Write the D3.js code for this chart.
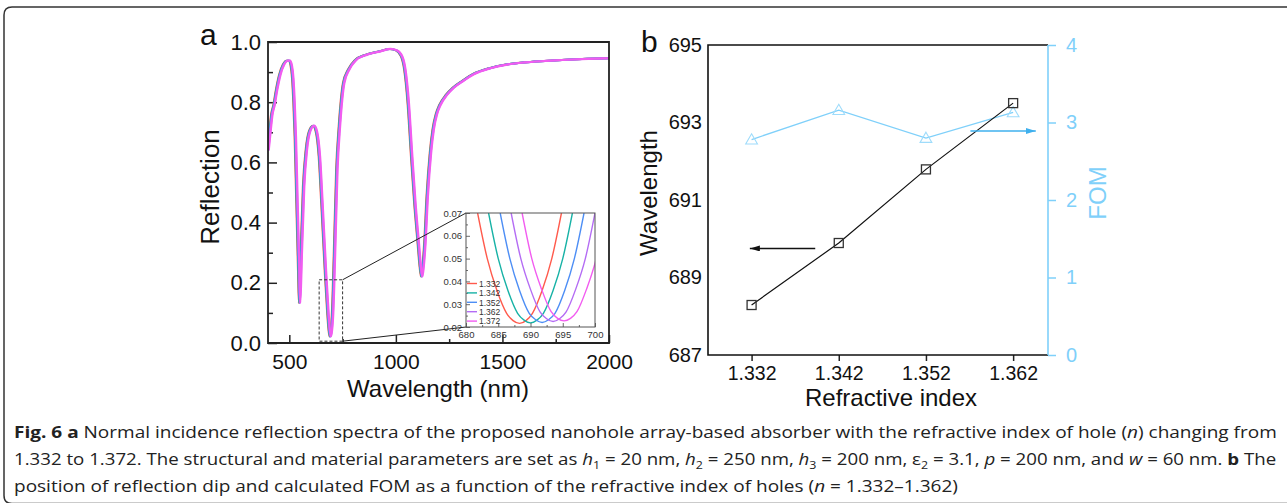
<!DOCTYPE html>
<html>
<head>
<meta charset="utf-8">
<script src="https://cdn.jsdelivr.net/npm/d3@7"></script>
<style>
  body { margin: 0; background: #fff; }
  svg { display: block; }
</style>
</head>
<body>
<svg id="fig" width="1287" height="503"></svg>
<script>
// ---- panel a: reflection spectrum (n = 1.352 curve)
const specWl = [400, 410, 418, 428, 440, 455, 473, 490, 500, 509, 516, 522, 528, 536, 544, 548, 552, 556, 567, 580, 595, 614, 627, 641, 653, 669, 681, 687, 692, 697, 703, 712, 723, 735, 755, 778, 809, 862, 925, 972, 1003, 1027, 1042, 1058, 1073, 1089, 1105, 1115, 1121, 1127, 1136, 1147, 1162, 1175, 1190, 1206, 1238, 1269, 1316, 1363, 1441, 1519, 1600, 1700, 1800, 1900, 2000];
const specR = [0.64, 0.71, 0.76, 0.79, 0.84, 0.89, 0.925, 0.938, 0.938, 0.922, 0.88, 0.80, 0.687, 0.465, 0.244, 0.133, 0.20, 0.30, 0.52, 0.642, 0.703, 0.722, 0.703, 0.62, 0.465, 0.244, 0.10, 0.045, 0.022, 0.04, 0.10, 0.30, 0.576, 0.72, 0.864, 0.908, 0.939, 0.958, 0.969, 0.977, 0.972, 0.952, 0.908, 0.797, 0.631, 0.465, 0.332, 0.25, 0.221, 0.25, 0.332, 0.487, 0.631, 0.71, 0.76, 0.79, 0.825, 0.848, 0.872, 0.893, 0.913, 0.925, 0.932, 0.937, 0.941, 0.944, 0.946];

const indexLabels = ['1.332', '1.342', '1.352', '1.362', '1.372'];
const seriesColors = ['#ff5a4c', '#17b2a6', '#4d8ef5', '#b46cf4', '#f25cf0'];
// dip position of each curve (inset)
const dipWl = [688.3, 690.0, 691.8, 693.5, 695.2];

// inset curves, 680-700 nm
const insetWl = [
  [681.8, 683.3, 684.8, 686.3, 687.3, 688.3, 689.3, 690.3, 691.8, 693.3, 694.8],
  [683.5, 685.0, 686.5, 688.0, 689.0, 690.0, 691.0, 692.0, 693.5, 695.0, 696.5],
  [685.3, 686.8, 688.3, 689.8, 690.8, 691.8, 692.8, 693.8, 695.3, 696.8, 698.3],
  [687.0, 688.5, 690.0, 691.5, 692.5, 693.5, 694.5, 695.5, 697.0, 698.5, 700.0],
  [688.7, 690.2, 691.7, 693.2, 694.2, 695.2, 696.2, 697.2, 698.7, 700.2, 701.7]
];
const insetR = [
  [0.070, 0.050, 0.036, 0.026, 0.0228, 0.0216, 0.0228, 0.026, 0.036, 0.050, 0.070],
  [0.070, 0.050, 0.036, 0.026, 0.0230, 0.0218, 0.0230, 0.026, 0.036, 0.050, 0.070],
  [0.070, 0.050, 0.036, 0.026, 0.0232, 0.0220, 0.0232, 0.026, 0.036, 0.050, 0.070],
  [0.070, 0.050, 0.0365, 0.0265, 0.0236, 0.0224, 0.0236, 0.0265, 0.0365, 0.050, 0.070],
  [0.070, 0.050, 0.0367, 0.0267, 0.0238, 0.0227, 0.0238, 0.0267, 0.0367, 0.050, 0.070]
];

// ---- panel b
const nIndex = [1.332, 1.342, 1.352, 1.362];
const dipWavelength = [688.29, 689.89, 691.79, 693.50];
const fom = [2.78, 3.16, 2.80, 3.13];

const FONT = '"Liberation Sans", Arial, Helvetica, sans-serif';
const FOM_BLUE = '#7fd0fa';

const svg = d3.select('#fig');

// outer rounded frame
svg.append('path')
  .attr('d', 'M1295,503.5 L12,503.5 Q4,503.5 4,495.5 L4,15 Q4,7 12,7 L1295,7')
  .attr('fill', 'none')
  .attr('stroke', '#333')
  .attr('stroke-width', 1.5);

function styleAxis(g, size, color) {
  g.select('.domain').remove();
  g.selectAll('text').attr('font-family', FONT).attr('font-size', size).attr('fill', color || '#111');
  g.selectAll('line').attr('stroke', color || '#222').attr('stroke-width', 1.5);
}

// =============== panel a ===============
const ax = d3.scaleLinear().domain([400, 2000]).range([268, 609]);
const ay = d3.scaleLinear().domain([0, 1]).range([343, 42]);

const ga = svg.append('g');

ga.append('clipPath').attr('id', 'clipA')
  .append('rect').attr('x', 268).attr('y', 42).attr('width', 341).attr('height', 301);

ga.append('g').attr('transform', 'translate(0,343)')
  .call(d3.axisBottom(ax).tickValues([500, 1000, 1500, 2000]).tickFormat(d3.format('d')).tickSizeInner(-8).tickSizeOuter(0).tickPadding(11))
  .call(g => styleAxis(g, 21));
ga.append('g').attr('transform', 'translate(0,343)')
  .call(d3.axisBottom(ax).tickValues([750, 1250, 1750]).tickSizeInner(-4).tickSizeOuter(0).tickFormat(''))
  .call(g => styleAxis(g, 21));
ga.append('g').attr('transform', 'translate(268,0)')
  .call(d3.axisLeft(ay).tickValues([0, 0.2, 0.4, 0.6, 0.8, 1]).tickFormat(d3.format('.1f')).tickSizeInner(-9).tickSizeOuter(0).tickPadding(7))
  .call(g => styleAxis(g, 22));
ga.append('g').attr('transform', 'translate(268,0)')
  .call(d3.axisLeft(ay).tickValues([0.1, 0.3, 0.5, 0.7, 0.9]).tickSizeInner(-5).tickSizeOuter(0).tickFormat(''))
  .call(g => styleAxis(g, 22));

const lineA = d3.line().x(d => ax(d[0])).y(d => ay(d[1])).curve(d3.curveMonotoneX);
const curvesA = ga.append('g').attr('clip-path', 'url(#clipA)');
indexLabels.forEach((lab, i) => {
  const shift = dipWl[i] - dipWl[2];
  const pts = specWl.map((w, j) => [w + shift, specR[j]]);
  curvesA.append('path')
    .attr('d', lineA(pts))
    .attr('fill', 'none')
    .attr('stroke', seriesColors[i])
    .attr('stroke-width', i === 4 ? 2.2 : 2);
});

// frame of a
ga.append('path')
  .attr('d', `M${ax(400)},${ay(0)} L${ax(400)},${ay(1)} L${ax(2000)},${ay(1)} L${ax(2000)},${ay(0)} Z`)
  .attr('fill', 'none').attr('stroke', '#222').attr('stroke-width', 1.8);

// zoom box
const boxW0 = 640, boxW1 = 750, boxR0 = 0.006, boxR1 = 0.21;
ga.append('rect')
  .attr('x', ax(boxW0)).attr('y', ay(boxR1))
  .attr('width', ax(boxW1) - ax(boxW0)).attr('height', ay(boxR0) - ay(boxR1))
  .attr('fill', 'none').attr('stroke', '#333').attr('stroke-width', 1).attr('stroke-dasharray', '3,2');

// inset
const ix = d3.scaleLinear().domain([680, 700]).range([466, 595]);
const iy = d3.scaleLinear().domain([0.02, 0.07]).range([327, 213]);

ga.append('line')
  .attr('x1', ax(boxW1)).attr('y1', ay(boxR1)).attr('x2', ix(680)).attr('y2', iy(0.07))
  .attr('stroke', '#222').attr('stroke-width', 1);
ga.append('line')
  .attr('x1', ax(boxW1)).attr('y1', ay(boxR0)).attr('x2', ix(680)).attr('y2', iy(0.02))
  .attr('stroke', '#222').attr('stroke-width', 1);

const gi = ga.append('g');
gi.append('rect').attr('x', 466).attr('y', 213).attr('width', 129).attr('height', 114).attr('fill', '#fff');
gi.append('clipPath').attr('id', 'clipI')
  .append('rect').attr('x', 466).attr('y', 213).attr('width', 129).attr('height', 114);

const lineI = d3.line().x(d => ix(d[0])).y(d => iy(d[1])).curve(d3.curveMonotoneX);
const curvesI = gi.append('g').attr('clip-path', 'url(#clipI)');
insetWl.forEach((wl, i) => {
  curvesI.append('path')
    .attr('d', lineI(wl.map((w, j) => [w, insetR[i][j]])))
    .attr('fill', 'none')
    .attr('stroke', seriesColors[i])
    .attr('stroke-width', 1.4);
});

function styleInset(g) {
  g.select('.domain').remove();
  g.selectAll('text').attr('font-family', FONT).attr('font-size', 9.5).attr('fill', '#333');
  g.selectAll('line').attr('stroke', '#444').attr('stroke-width', 0.8);
}
gi.append('g').attr('transform', 'translate(0,327)')
  .call(d3.axisBottom(ix).tickValues([680, 685, 690, 695, 700]).tickSizeInner(-4).tickSizeOuter(0).tickPadding(4))
  .call(styleInset);
gi.append('g').attr('transform', 'translate(0,327)')
  .call(d3.axisBottom(ix).tickValues([682.5, 687.5, 692.5, 697.5]).tickSizeInner(-2).tickSizeOuter(0).tickFormat(''))
  .call(styleInset);
gi.append('g').attr('transform', 'translate(466,0)')
  .call(d3.axisLeft(iy).tickValues([0.02, 0.03, 0.04, 0.05, 0.06, 0.07]).tickFormat(d3.format('.2f')).tickSizeInner(-4).tickSizeOuter(0).tickPadding(4))
  .call(styleInset);
gi.append('g').attr('transform', 'translate(466,0)')
  .call(d3.axisLeft(iy).tickValues([0.025, 0.035, 0.045, 0.055, 0.065]).tickSizeInner(-2).tickSizeOuter(0).tickFormat(''))
  .call(styleInset);
gi.append('rect').attr('x', 466).attr('y', 213).attr('width', 129).attr('height', 114)
  .attr('fill', 'none').attr('stroke', '#555').attr('stroke-width', 1);

// inset legend
const leg = gi.append('g');
indexLabels.forEach((lab, i) => {
  const y = 283.5 + i * 9.4;
  leg.append('line').attr('x1', 467).attr('x2', 477).attr('y1', y).attr('y2', y)
    .attr('stroke', seriesColors[i]).attr('stroke-width', 1.4);
  leg.append('text').attr('x', 479).attr('y', y + 3.2).text(lab)
    .attr('font-family', FONT).attr('font-size', 8.5).attr('fill', '#333');
});

// titles a
ga.append('text').attr('x', 200).attr('y', 45).text('a')
  .attr('font-family', FONT).attr('font-size', 30).attr('fill', '#111');
ga.append('text')
  .attr('transform', 'translate(219,187) rotate(-90)')
  .attr('text-anchor', 'middle').text('Reflection')
  .attr('font-family', FONT).attr('font-size', 26).attr('fill', '#111');
ga.append('text')
  .attr('x', 438).attr('y', 397).attr('text-anchor', 'middle').text('Wavelength (nm)')
  .attr('font-family', FONT).attr('font-size', 24).attr('fill', '#111');

// =============== panel b ===============
const bx = d3.scaleLinear().domain([1.327, 1.366]).range([708, 1048]);
const by = d3.scaleLinear().domain([687, 695]).range([355, 45]);
const bf = d3.scaleLinear().domain([0, 4]).range([355, 45]);

const gb = svg.append('g');

gb.append('g').attr('transform', 'translate(0,355)')
  .call(d3.axisBottom(bx).tickValues(nIndex).tickFormat(d3.format('.3f')).tickSizeInner(6).tickSizeOuter(0).tickPadding(5))
  .call(g => styleAxis(g, 19.5));
gb.append('g').attr('transform', 'translate(708,0)')
  .call(d3.axisLeft(by).tickValues([687, 689, 691, 693, 695]).tickSizeInner(0).tickSizeOuter(0).tickPadding(6))
  .call(g => styleAxis(g, 20));
gb.append('g').attr('transform', 'translate(1048,0)')
  .call(d3.axisRight(bf).tickValues([0, 1, 2, 3, 4]).tickFormat(d3.format('d')).tickSizeInner(8).tickSizeOuter(0).tickPadding(10))
  .call(g => styleAxis(g, 20, FOM_BLUE));

// frame of b
gb.append('path').attr('d', 'M1048,45 L708,45 L708,355 L1048,355')
  .attr('fill', 'none').attr('stroke', '#111').attr('stroke-width', 1.6);
gb.append('line').attr('x1', 1048).attr('x2', 1048).attr('y1', 45).attr('y2', 355)
  .attr('stroke', FOM_BLUE).attr('stroke-width', 1.6);

// FOM series
const fomPts = nIndex.map((n, i) => [n, fom[i]]);
gb.append('path')
  .attr('d', d3.line().x(d => bx(d[0])).y(d => bf(d[1]))(fomPts))
  .attr('fill', 'none').attr('stroke', FOM_BLUE).attr('stroke-width', 1.3);
gb.selectAll('.tri').data(fomPts).join('path')
  .attr('transform', d => `translate(${bx(d[0])},${bf(d[1]) + 1})`)
  .attr('d', d3.symbol(d3.symbolTriangle, 60))
  .attr('fill', 'none').attr('stroke', '#9fdcfb').attr('stroke-width', 1.1);

// wavelength series
const wlPts = nIndex.map((n, i) => [n, dipWavelength[i]]);
gb.append('path')
  .attr('d', d3.line().x(d => bx(d[0])).y(d => by(d[1]))(wlPts))
  .attr('fill', 'none').attr('stroke', '#111').attr('stroke-width', 1.2);
gb.selectAll('.sq').data(wlPts).join('rect')
  .attr('x', d => bx(d[0]) - 4.5).attr('y', d => by(d[1]) - 4.5)
  .attr('width', 9).attr('height', 9)
  .attr('fill', 'none').attr('stroke', '#333').attr('stroke-width', 1.3);

// arrows
const defs = svg.append('defs');
[['arrBlack', '#111'], ['arrBlue', '#3fb0ee']].forEach(([id, c]) => {
  defs.append('marker').attr('id', id)
    .attr('viewBox', '0 0 10 6').attr('refX', 10).attr('refY', 3)
    .attr('markerWidth', 10).attr('markerHeight', 6).attr('markerUnits', 'userSpaceOnUse')
    .attr('orient', 'auto')
    .append('path').attr('d', 'M0,0 L10,3 L0,6 Z').attr('fill', c);
});
gb.append('line')
  .attr('x1', bx(1.3393)).attr('x2', bx(1.3318)).attr('y1', by(689.75)).attr('y2', by(689.75))
  .attr('stroke', '#111').attr('stroke-width', 1.6).attr('marker-end', 'url(#arrBlack)');
gb.append('line')
  .attr('x1', bx(1.3571)).attr('x2', bx(1.3646)).attr('y1', bf(2.89)).attr('y2', bf(2.89))
  .attr('stroke', '#3fb0ee').attr('stroke-width', 1.6).attr('marker-end', 'url(#arrBlue)');

// titles b
gb.append('text').attr('x', 641).attr('y', 52).text('b')
  .attr('font-family', FONT).attr('font-size', 30).attr('fill', '#111');
gb.append('text')
  .attr('transform', 'translate(657,193) rotate(-90)')
  .attr('text-anchor', 'middle').text('Wavelength')
  .attr('font-family', FONT).attr('font-size', 24).attr('fill', '#111');
gb.append('text')
  .attr('transform', 'translate(1106,193) rotate(-90)')
  .attr('text-anchor', 'middle').text('FOM')
  .attr('font-family', FONT).attr('font-size', 24).attr('fill', FOM_BLUE);
gb.append('text')
  .attr('x', 891).attr('y', 406).attr('text-anchor', 'middle').text('Refractive index')
  .attr('font-family', FONT).attr('font-size', 24).attr('fill', '#111');

// =============== caption ===============
const CAP_FONT = '"Open Sans", "Noto Sans", sans-serif';
const captionLines = [
  [['Fig. 6 a', 'b'], [' Normal incidence reflection spectra of the proposed nanohole array-based absorber with the refractive index of hole ('], ['n', 'i'], [') changing from']],
  [['1.332 to 1.372. The structural and material parameters are set as '], ['h', 'i'], ['1', 'sub'], [' = 20 nm, '], ['h', 'i'], ['2', 'sub'], [' = 250 nm, '], ['h', 'i'], ['3', 'sub'], [' = 200 nm, ε'], ['2', 'sub'], [' = 3.1, '], ['p', 'i'], [' = 200 nm, and '], ['w', 'i'], [' = 60 nm. '], ['b', 'b'], [' The']],
  [['position of reflection dip and calculated FOM as a function of the refractive index of holes ('], ['n', 'i'], [' = 1.332–1.362)']]
];
const capBase = [438, 465, 492];
const capTexts = captionLines.map((segs, li) => {
  const t = svg.append('text')
    .attr('font-family', CAP_FONT).attr('font-size', 16.5).attr('fill', '#222')
    .attr('transform', `translate(14,${capBase[li]})`);
  let prevSub = false;
  segs.forEach(([s, st]) => {
    const ts = t.append('tspan').text(s);
    if (st === 'b') ts.attr('font-weight', 'bold');
    if (st === 'i') ts.attr('font-style', 'italic');
    if (st === 'sub') { ts.attr('font-size', 11).attr('dy', 4); prevSub = true; }
    else if (prevSub) { ts.attr('dy', -4); prevSub = false; }
  });
  return t;
});
const targetW = 1263;
const k0 = targetW / capTexts[0].node().getBBox().width;
const k1 = targetW / capTexts[1].node().getBBox().width;
capTexts[0].attr('transform', `translate(14,${capBase[0]}) scale(${k0},1)`);
capTexts[1].attr('transform', `translate(14,${capBase[1]}) scale(${k1},1)`);
capTexts[2].attr('transform', `translate(14,${capBase[2]}) scale(${k0},1)`);
</script>
</body>
</html>
